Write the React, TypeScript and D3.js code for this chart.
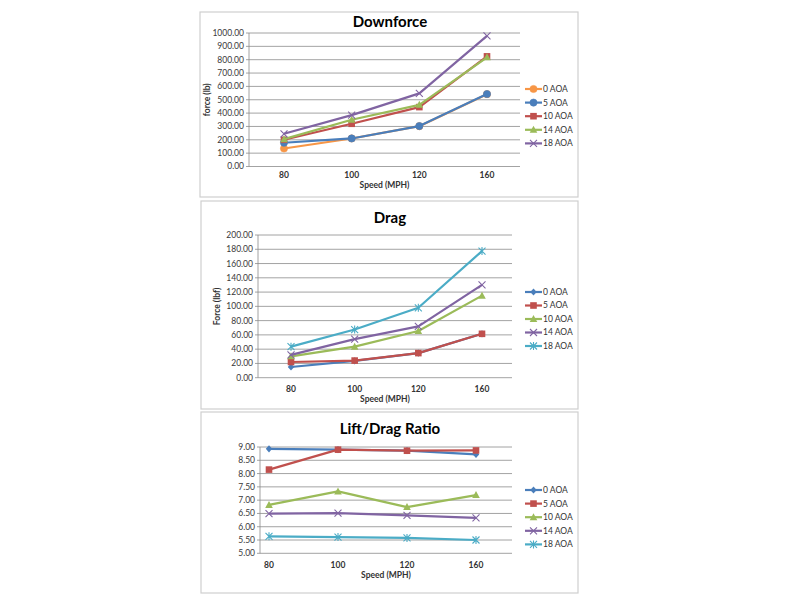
import React from "react";
import * as d3 from "d3";

const speeds = ["80", "100", "120", "160"];

const downSeries = ["0 AOA", "5 AOA", "10 AOA", "14 AOA", "18 AOA"];
const down0 = [135, 210, 302, 542];
const down5 = [178, 210, 303, 543];
const down10 = [200, 320, 445, 825];
const down14 = [205, 350, 462, 818];
const down18 = [245, 385, 548, 978];
const downTicks = [0, 100, 200, 300, 400, 500, 600, 700, 800, 900, 1000];

const dragSeries = ["0 AOA", "5 AOA", "10 AOA", "14 AOA", "18 AOA"];
const drag0 = [15, 23.5, 34.5, 61.5];
const drag5 = [22, 24, 34.5, 61.5];
const drag10 = [30, 43.5, 65.5, 115];
const drag14 = [32, 54, 72, 130];
const drag18 = [43.5, 67.5, 98, 177.5];
const dragTicks = [0, 20, 40, 60, 80, 100, 120, 140, 160, 180, 200];

const ldSeries = ["0 AOA", "5 AOA", "10 AOA", "14 AOA", "18 AOA"];
const ld0 = [8.93, 8.9, 8.86, 8.72];
const ld5 = [8.15, 8.9, 8.86, 8.87];
const ld10 = [6.82, 7.33, 6.74, 7.19];
const ld14 = [6.49, 6.51, 6.43, 6.33];
const ld18 = [5.64, 5.61, 5.58, 5.5];
const ldTicks = [5, 5.5, 6, 6.5, 7, 7.5, 8, 8.5, 9];

const ORANGE = "#F79646";
const BLUE = "#4A7EBB";
const RED = "#C0504D";
const GREEN = "#9BBB59";
const PURPLE = "#8064A2";
const CYAN = "#4BACC6";

const FONT = "Lato, 'Open Sans', sans-serif";

type Marker = "circle" | "diamond" | "square" | "triangle" | "x" | "star";

function MarkerShape({ kind, x, y, color }: { kind: Marker; x: number; y: number; color: string }) {
  switch (kind) {
    case "circle":
      return <circle cx={x} cy={y} r={3.6} fill={color} stroke={color} strokeWidth={0.6} />;
    case "diamond":
      return <path d={`M${x},${y - 3.6}L${x + 3.2},${y}L${x},${y + 3.6}L${x - 3.2},${y}Z`} fill={color} />;
    case "square":
      return <rect x={x - 3.3} y={y - 3.3} width={6.6} height={6.6} fill={color} />;
    case "triangle":
      return <path d={`M${x},${y - 4}L${x + 3.8},${y + 3}L${x - 3.8},${y + 3}Z`} fill={color} />;
    case "x":
      return (
        <path d={`M${x - 3.5},${y - 3.5}L${x + 3.5},${y + 3.5}M${x - 3.5},${y + 3.5}L${x + 3.5},${y - 3.5}`} stroke={color} strokeWidth={1.1} fill="none" />
      );
    case "star":
      return (
        <path
          d={`M${x - 3.5},${y - 3.5}L${x + 3.5},${y + 3.5}M${x - 3.5},${y + 3.5}L${x + 3.5},${y - 3.5}M${x},${y - 4}L${x},${y + 4}`}
          stroke={color}
          strokeWidth={1.1}
          fill="none"
        />
      );
  }
  return null;
}

interface ChartCfg {
  title: string;
  frame: [number, number, number, number];
  titleY: number;
  plotX0: number;
  plotX1: number;
  yRange: [number, number];
  yDomain: [number, number];
  ticks: number[];
  xRange: [number, number];
  xLabelY: number;
  xTitleY: number;
  yTitle?: string;
  yTitleX: number;
  legendX: number;
  legendY: number;
  legendStep: number;
  names: string[];
  data: number[][];
  colors: string[];
  markers: Marker[];
}

function Chart({ c }: { c: ChartCfg }) {
  const y = d3.scaleLinear().domain(c.yDomain).range(c.yRange);
  const x = d3.scalePoint<string>().domain(speeds).range(c.xRange);
  const fmt = d3.format(".2f");
  const line = d3
    .line<number>()
    .x((_, i) => x(speeds[i]) as number)
    .y((v) => y(v));
  const [fx, fy, fw, fh] = c.frame;
  const midY = (c.yRange[0] + c.yRange[1]) / 2;
  return (
    <g>
      <rect x={fx} y={fy} width={fw} height={fh} fill="#fff" stroke="#CFCFCF" strokeWidth={1.2} />
      <text x={390} y={c.titleY} textAnchor="middle" fontSize={15} fontWeight="bold" fill="#000" fontFamily={FONT}>
        {c.title}
      </text>
      {c.ticks.map((t) => (
        <g key={t}>
          <line x1={c.plotX0} x2={c.plotX1} y1={y(t)} y2={y(t)} stroke="#8C8C8C" strokeWidth={0.8} />
          <line x1={c.plotX0 - 3} x2={c.plotX0} y1={y(t)} y2={y(t)} stroke="#8C8C8C" strokeWidth={0.8} />
          <text x={c.plotX0 - 5} y={y(t)} dy="0.35em" textAnchor="end" fontSize={8.5} fill="#3a3a3a" fontFamily={FONT}>
            {fmt(t)}
          </text>
        </g>
      ))}
      <line x1={c.plotX0} x2={c.plotX0} y1={c.yRange[1]} y2={c.yRange[0]} stroke="#8C8C8C" strokeWidth={0.8} />
      {speeds.map((s) => (
        <text key={s} x={x(s)} y={c.xLabelY} textAnchor="middle" fontSize={8.5} fontWeight="bold" fill="#333" fontFamily={FONT}>
          {s}
        </text>
      ))}
      <text x={(c.plotX0 + c.plotX1) / 2} y={c.xTitleY} textAnchor="middle" fontSize={8.5} fontWeight="bold" fill="#333" fontFamily={FONT}>
        Speed (MPH)
      </text>
      {c.yTitle && (
        <text
          transform={`translate(${c.yTitleX},${midY}) rotate(-90)`}
          textAnchor="middle"
          fontSize={8.5}
          fontWeight="bold"
          fill="#333"
          fontFamily={FONT}
        >
          {c.yTitle}
        </text>
      )}
      {c.data.map((d, i) => (
        <g key={i}>
          <path d={line(d) || ""} fill="none" stroke={c.colors[i]} strokeWidth={2.2} strokeLinejoin="round" />
          {d.map((v, j) => (
            <MarkerShape key={j} kind={c.markers[i]} x={x(speeds[j]) as number} y={y(v)} color={c.colors[i]} />
          ))}
        </g>
      ))}
      {c.names.map((n, i) => {
        const ly = c.legendY + i * c.legendStep;
        return (
          <g key={n}>
            <line x1={c.legendX} x2={c.legendX + 17} y1={ly} y2={ly} stroke={c.colors[i]} strokeWidth={2.2} />
            <MarkerShape kind={c.markers[i]} x={c.legendX + 8.5} y={ly} color={c.colors[i]} />
            <text x={c.legendX + 18} y={ly} dy="0.35em" fontSize={8.5} fill="#333" fontFamily={FONT}>
              {n}
            </text>
          </g>
        );
      })}
    </g>
  );
}

export default function App() {
  const charts: ChartCfg[] = [
    {
      title: "Downforce",
      frame: [200, 12, 378, 185],
      titleY: 27,
      plotX0: 249,
      plotX1: 520,
      yRange: [166.5, 33],
      yDomain: [0, 1000],
      ticks: downTicks,
      xRange: [284, 487],
      xLabelY: 178,
      xTitleY: 188,
      yTitle: "force (lb)",
      yTitleX: 210,
      legendX: 525,
      legendY: 89,
      legendStep: 13.6,
      names: downSeries,
      data: [down0, down5, down10, down14, down18],
      colors: [ORANGE, BLUE, RED, GREEN, PURPLE],
      markers: ["circle", "circle", "square", "triangle", "x"],
    },
    {
      title: "Drag",
      frame: [201, 201, 377, 208],
      titleY: 223,
      plotX0: 258,
      plotX1: 512,
      yRange: [377.7, 235],
      yDomain: [0, 200],
      ticks: dragTicks,
      xRange: [291, 482],
      xLabelY: 392,
      xTitleY: 402,
      yTitle: "Force (lbf)",
      yTitleX: 220,
      legendX: 525,
      legendY: 292,
      legendStep: 13.5,
      names: dragSeries,
      data: [drag0, drag5, drag10, drag14, drag18],
      colors: [BLUE, RED, GREEN, PURPLE, CYAN],
      markers: ["diamond", "square", "triangle", "x", "star"],
    },
    {
      title: "Lift/Drag Ratio",
      frame: [201, 412, 377, 181],
      titleY: 434,
      plotX0: 260,
      plotX1: 512,
      yRange: [553.3, 447],
      yDomain: [5, 9],
      ticks: ldTicks,
      xRange: [269, 476],
      xLabelY: 568,
      xTitleY: 578,
      yTitleX: 0,
      legendX: 525,
      legendY: 490,
      legendStep: 13.6,
      names: ldSeries,
      data: [ld0, ld5, ld10, ld14, ld18],
      colors: [BLUE, RED, GREEN, PURPLE, CYAN],
      markers: ["diamond", "square", "triangle", "x", "star"],
    },
  ];
  return (
    <svg width={800} height={600} style={{ position: "absolute", left: 0, top: 0, background: "#fff" }}>
      <rect width={800} height={600} fill="#fff" />
      {charts.map((c) => (
        <Chart key={c.title} c={c} />
      ))}
    </svg>
  );
}
